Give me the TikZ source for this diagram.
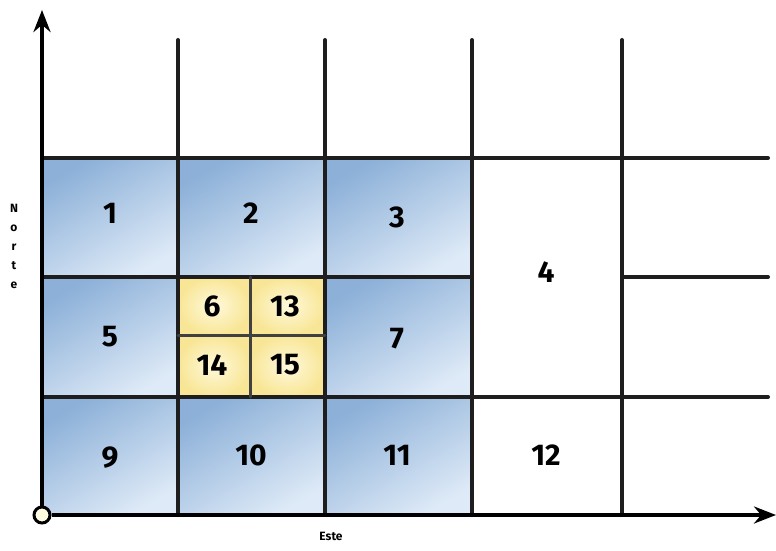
\documentclass[tikz,border=0pt]{standalone}
\usepackage{fontspec}
\setmainfont{Fira Sans}
\usetikzlibrary{arrows.meta,positioning}
\definecolor{celldark}{RGB}{140,176,216}
\definecolor{celllight}{RGB}{222,234,247}
\definecolor{subyellow}{RGB}{248,230,150}
\definecolor{sublight}{RGB}{255,249,220}
\definecolor{gridcolor}{RGB}{30,30,30}

\tikzset{
  cell/.style={left color=celldark, right color=celllight, shading angle=30},
  subcell/.style={inner color=sublight, outer color=subyellow},
  gridline/.style={draw=gridcolor, line width=4pt, line cap=round},
  subline/.style={draw=gridcolor!85, line width=3pt, line cap=round},
  axis/.style={draw=black, line width=4pt, -{Stealth[length=22pt,width=17pt]}},
  num/.style={font=\fontsize{30}{32}\selectfont\bfseries, inner sep=0pt},
  axislabel/.style={font=\fontsize{12}{19}\selectfont\bfseries, align=center}
}

\begin{document}
\begin{tikzpicture}[x=1pt,y=-1pt]
  \useasboundingbox (0,0) rectangle (776,551);

  % shaded cells
  \foreach \xa/\ya/\xb/\yb in {42/158/178/277, 178/158/325/277, 325/158/472/277,
                               42/277/178/397, 325/277/472/397,
                               42/397/178/515, 178/397/325/515, 325/397/472/515}
    \shade[cell] (\xa,\ya) rectangle (\xb,\yb);
  \foreach \xa/\ya/\xb/\yb in {178/277/250/335, 250/277/325/335,
                               178/335/250/397, 250/335/325/397}
    \shade[subcell] (\xa,\ya) rectangle (\xb,\yb);

  % grid
  \foreach \x in {178,325,472,622}
    \draw[gridline] (\x,40) -- (\x,515);
  \draw[gridline] (42,158) -- (768,158);
  \draw[gridline] (42,277) -- (472,277);
  \draw[gridline] (622,277) -- (768,277);
  \draw[gridline] (42,397) -- (768,397);
  \draw[subline] (250,277) -- (250,397);
  \draw[subline] (178,335) -- (325,335);

  % axes
  \node[draw, circle, line width=3pt, fill=yellow!12, minimum size=16pt, inner sep=0pt] (o) at (42,515) {};
  \coordinate (ytip) at (42,10);
  \coordinate (xtip) at (776,515);
  \draw[axis] (o.north) -- (ytip);
  \draw[axis] (o.east) -- (xtip);
  \node[axislabel] (norte) at (14,246) {N\\o\\r\\t\\e};
  \node[axislabel] (este) at (331,536) {Este};

  % labels
  \node[num] (n1) at (110,213) {1};
  \node[num] (n2) at (251,213) {2};
  \node[num] (n3) at (397,217) {3};
  \node[num] (n4) at (546,272) {4};
  \node[num] (n5) at (110,337) {5};
  \node[num] (n6) at (212,306) {6};
  \node[num] (n13) at (285,306) {13};
  \node[num] (n14) at (212,365) {14};
  \node[num] (n15) at (285,365) {15};
  \node[num] (n7) at (397,339) {7};
  \node[num] (n9) at (110,458) {9};
  \node[num] (n10) at (251,455) {10};
  \node[num] (n11) at (397,455) {11};
  \node[num] (n12) at (546,455) {12};
\end{tikzpicture}
\end{document}
